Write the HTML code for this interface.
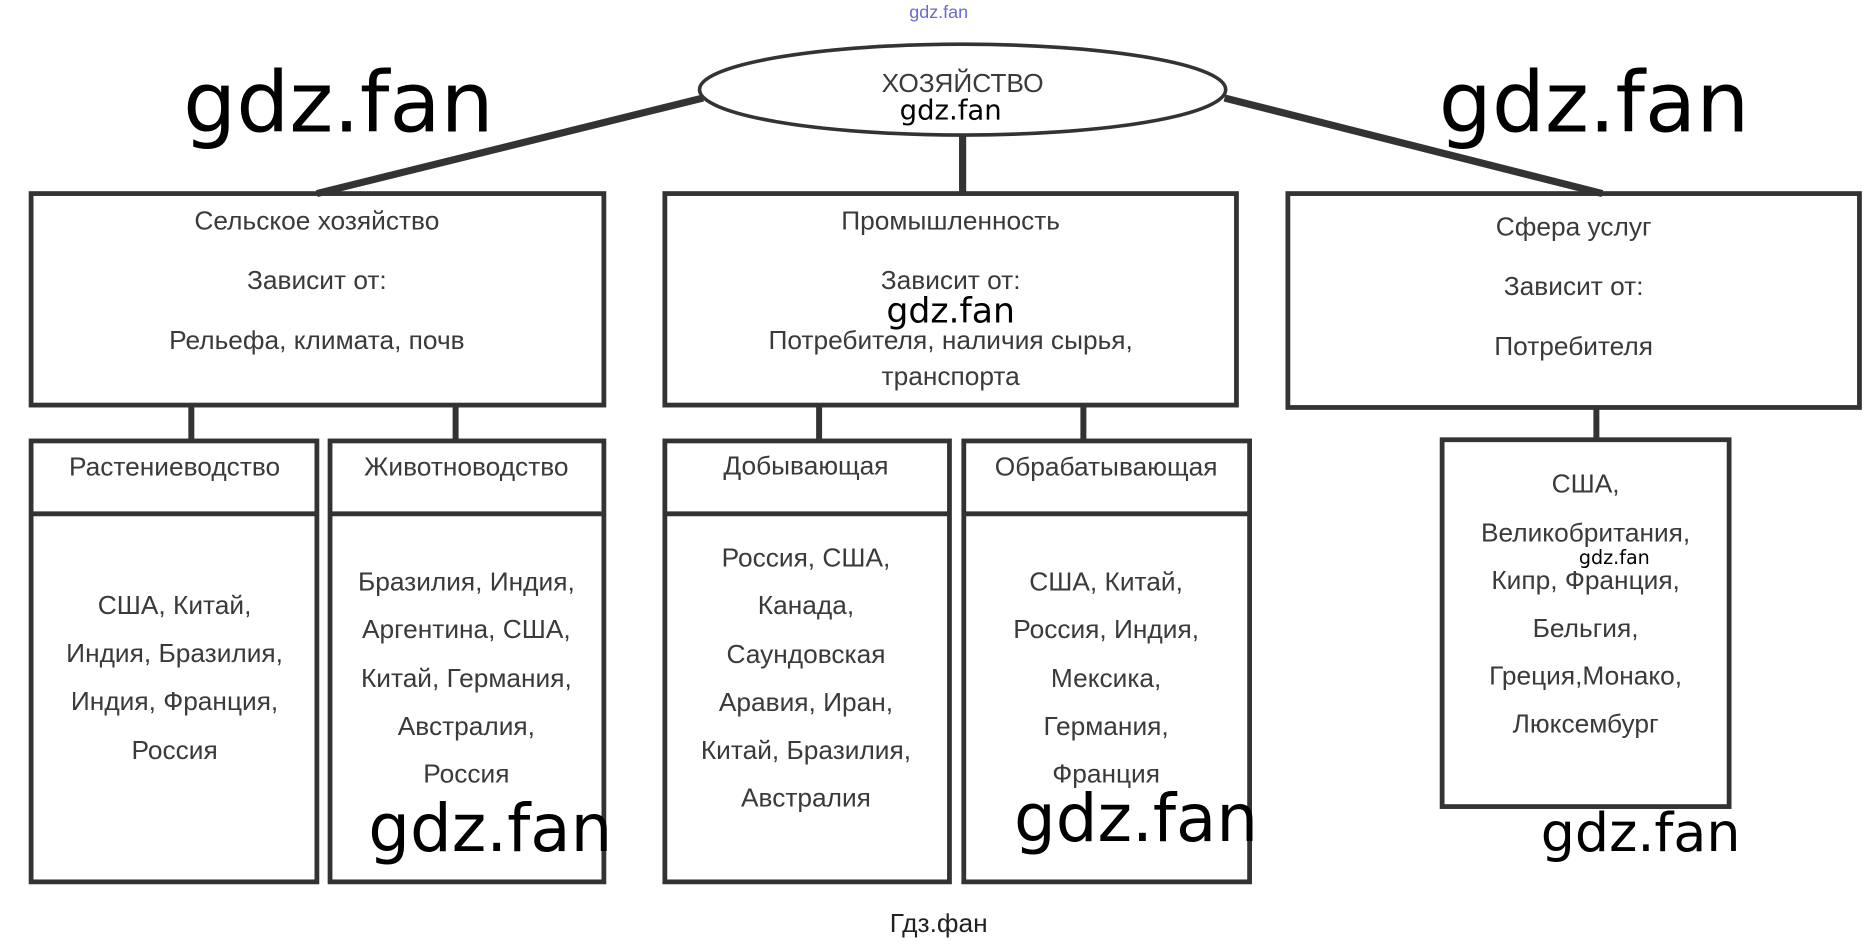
<!DOCTYPE html>
<html><head><meta charset="utf-8"><style>
html,body{margin:0;padding:0;background:#fff;}
svg{display:block;}
.t{font-family:"Liberation Sans",sans-serif;fill:#3a3a3a;font-size:22px;text-anchor:middle;}
.w{font-family:"DejaVu Sans","Liberation Sans",sans-serif;fill:#000;text-anchor:middle;}
</style></head><body>
<svg width="1875" height="944" viewBox="0 0 1568 790" preserveAspectRatio="none" xmlns="http://www.w3.org/2000/svg">
<rect width="1568" height="790" fill="#fff"/>
<g stroke="#333" fill="none">
<ellipse cx="805" cy="75" rx="220" ry="38" stroke-width="3"/>
<line x1="588" y1="82" x2="265" y2="162" stroke-width="6"/>
<line x1="805" y1="113" x2="805" y2="162" stroke-width="6"/>
<line x1="1024" y1="82" x2="1340" y2="162" stroke-width="6"/>
<g stroke-width="4">
<rect x="26" y="162" width="479" height="177"/>
<rect x="556" y="162" width="478" height="177"/>
<rect x="1077" y="162" width="478" height="179"/>
<rect x="26" y="369" width="239" height="369"/>
<line x1="26" y1="430" x2="265" y2="430"/>
<rect x="276" y="369" width="229" height="369"/>
<line x1="276" y1="430" x2="505" y2="430"/>
<rect x="556" y="369" width="238" height="369"/>
<line x1="556" y1="430" x2="794" y2="430"/>
<rect x="806" y="369" width="239" height="369"/>
<line x1="806" y1="430" x2="1045" y2="430"/>
<rect x="1206" y="368" width="240" height="307"/>
</g>
<g stroke-width="5">
<line x1="160" y1="339" x2="160" y2="369"/>
<line x1="381" y1="339" x2="381" y2="369"/>
<line x1="685" y1="339" x2="685" y2="369"/>
<line x1="906" y1="339" x2="906" y2="369"/>
<line x1="1335" y1="341" x2="1335" y2="368"/>
</g>
</g>
<text x="785" y="15" class="t" style="font-size:15px;fill:#6a6ad0">gdz.fan</text>
<text x="805" y="77" class="t">ХОЗЯЙСТВО</text>
<text x="795" y="100" class="w" style="font-size:23px">gdz.fan</text>
<text x="283" y="110" class="w" style="font-size:70px">gdz.fan</text>
<text x="1333" y="110" class="w" style="font-size:70px">gdz.fan</text>

<text x="265" y="192" class="t">Сельское хозяйство</text>
<text x="265" y="242" class="t">Зависит от:</text>
<text x="265" y="292" class="t">Рельефа, климата, почв</text>

<text x="795" y="192" class="t">Промышленность</text>
<text x="795" y="242" class="t">Зависит от:</text>
<text x="795" y="270" class="w" style="font-size:29px">gdz.fan</text>
<text x="795" y="292" class="t">Потребителя, наличия сырья,</text>
<text x="795" y="322" class="t">транспорта</text>

<text x="1316" y="197" class="t">Сфера услуг</text>
<text x="1316" y="247" class="t">Зависит от:</text>
<text x="1316" y="297" class="t">Потребителя</text>

<text x="146" y="398" class="t">Растениеводство</text>
<text x="390" y="398" class="t">Животноводство</text>
<text x="674" y="397" class="t">Добывающая</text>
<text x="925" y="398" class="t">Обрабатывающая</text>

<g class="t">
<text x="146" y="514">США, Китай,</text>
<text x="146" y="554">Индия, Бразилия,</text>
<text x="146" y="594">Индия, Франция,</text>
<text x="146" y="635">Россия</text>
</g>
<g class="t">
<text x="390" y="494">Бразилия, Индия,</text>
<text x="390" y="534">Аргентина, США,</text>
<text x="390" y="575">Китай, Германия,</text>
<text x="390" y="615">Австралия,</text>
<text x="390" y="655">Россия</text>
</g>
<g class="t">
<text x="674" y="474">Россия, США,</text>
<text x="674" y="514">Канада,</text>
<text x="674" y="555">Саундовская</text>
<text x="674" y="595">Аравия, Иран,</text>
<text x="674" y="635">Китай, Бразилия,</text>
<text x="674" y="675">Австралия</text>
</g>
<g class="t">
<text x="925" y="494">США, Китай,</text>
<text x="925" y="534">Россия, Индия,</text>
<text x="925" y="575">Мексика,</text>
<text x="925" y="615">Германия,</text>
<text x="925" y="655">Франция</text>
</g>
<g class="t">
<text x="1326" y="412">США,</text>
<text x="1326" y="453">Великобритания,</text>
<text x="1326" y="493">Кипр, Франция,</text>
<text x="1326" y="533">Бельгия,</text>
<text x="1326" y="573">Греция,Монако,</text>
<text x="1326" y="613">Люксембург</text>
</g>
<text x="1350" y="472" class="w" style="font-size:16px">gdz.fan</text>
<text x="410" y="712" class="w" style="font-size:55px">gdz.fan</text>
<text x="950" y="704" class="w" style="font-size:55px">gdz.fan</text>
<text x="1372" y="712" class="w" style="font-size:45px">gdz.fan</text>
<text x="785" y="780" class="t" style="fill:#222">Гдз.фан</text>
</svg>
</body></html>
